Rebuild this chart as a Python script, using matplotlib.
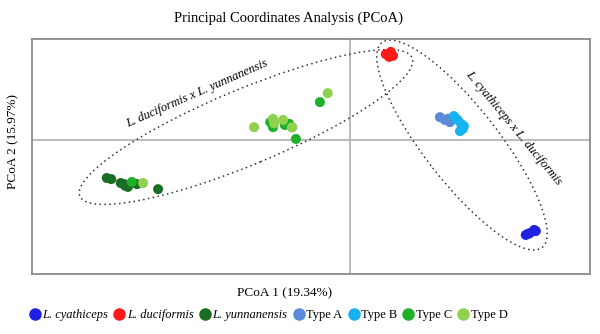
import matplotlib.pyplot as plt
from matplotlib.patches import Ellipse
from matplotlib.lines import Line2D

plt.rcParams['font.family'] = ['Liberation Serif', 'DejaVu Serif']

# PCoA scores per group (PCoA 1, PCoA 2)
cyathiceps_x = [0.315, 0.322, 0.330, 0.333, 0.319]
cyathiceps_y = [-0.170, -0.167, -0.161, -0.163, -0.168]
duciformis_x = [0.064, 0.073, 0.070, 0.077, 0.068]
duciformis_y = [0.154, 0.158, 0.149, 0.151, 0.152]
yunnanensis_x = [-0.436, -0.428, -0.411, -0.403, -0.398, -0.405, -0.382, -0.344]
yunnanensis_y = [-0.068, -0.070, -0.077, -0.082, -0.084, -0.079, -0.079, -0.088]
typeA_x = [0.161, 0.170, 0.179, 0.175]
typeA_y = [0.041, 0.036, 0.032, 0.038]
typeB_x = [0.186, 0.193, 0.199, 0.202, 0.197, 0.204, 0.190]
typeB_y = [0.043, 0.036, 0.029, 0.020, 0.016, 0.025, 0.038]
typeC_x = [-0.054, -0.143, -0.138, -0.117, -0.104, -0.097, -0.391, -0.109]
typeC_y = [0.068, 0.032, 0.023, 0.027, 0.023, 0.002, -0.075, 0.029]
typeD_x = [-0.040, -0.172, -0.138, -0.120, -0.104, -0.371, -0.136]
typeD_y = [0.084, 0.023, 0.038, 0.036, 0.023, -0.077, 0.030]

labels = ["L. cyathiceps", "L. duciformis", "L. yunnanensis",
          "Type A", "Type B", "Type C", "Type D"]
colors = ["#2020e0", "#ff1a1a", "#1b6d24", "#5a8ad8", "#19b2f0", "#1fb02a", "#8fd14f"]
groups = [(cyathiceps_x, cyathiceps_y), (duciformis_x, duciformis_y),
          (yunnanensis_x, yunnanensis_y), (typeA_x, typeA_y), (typeB_x, typeB_y),
          (typeC_x, typeC_y), (typeD_x, typeD_y)]

fig = plt.figure(figsize=(6, 3.34), dpi=100)
ax = fig.add_axes([0.0533, 0.1796, 0.93, 0.7036])
ax.set_xlim(-0.57, 0.43)
ax.set_ylim(-0.240, 0.181)

# zero lines
ax.axhline(0, color="#bdbdbd", lw=1.5, zorder=0)
ax.axvline(0, color="#bdbdbd", lw=1.5, zorder=0)

for (xs, ys), c in zip(groups, colors):
    ax.scatter(xs, ys, s=52, color=c, edgecolors="none", zorder=3)

# hybrid group ellipses
ax.add_patch(Ellipse((-0.1865, 0.0233), 0.645, 0.135, angle=22.6,
                     fill=False, ls=(0, (1, 2.2)), lw=1.1, color="#333333"))
ax.add_patch(Ellipse((0.2006, -0.009), 0.466, 0.133, angle=-52,
                     fill=False, ls=(0, (1, 2.2)), lw=1.1, color="#333333"))

ax.text(-0.274, 0.084, "L. duciformis x L. yunnanensis", rotation=23.7,
        ha="center", va="center", fontsize=9, style="italic")
ax.text(0.294, 0.021, "L. cyathiceps x L. duciformis", rotation=-50.5,
        ha="center", va="center", fontsize=9, style="italic")

ax.set_xticks([])
ax.set_yticks([])
for sp in ax.spines.values():
    sp.set_color("#8a8a8a")
    sp.set_linewidth(1.3)

fig.text(0.48, 0.945, "Principal Coordinates Analysis (PCoA)", ha="center",
         va="center", fontsize=10.5)
fig.text(0.475, 0.122, "PCoA 1 (19.34%)", ha="center", va="center", fontsize=9.5)
fig.text(0.022, 0.575, "PCoA 2 (15.97%)", ha="center", va="center",
         rotation=90, fontsize=9.5)

handles = [Line2D([], [], marker="o", ls="none", color=c, markersize=8) for c in colors]
leg = fig.legend(handles, labels, loc="center", bbox_to_anchor=(0.447, 0.057),
                 ncol=7, frameon=False, fontsize=9, handletextpad=0.1,
                 columnspacing=0.4, handlelength=1.0)
for t in leg.get_texts()[:3]:
    t.set_style("italic")

fig.savefig("out.png", dpi=100)
